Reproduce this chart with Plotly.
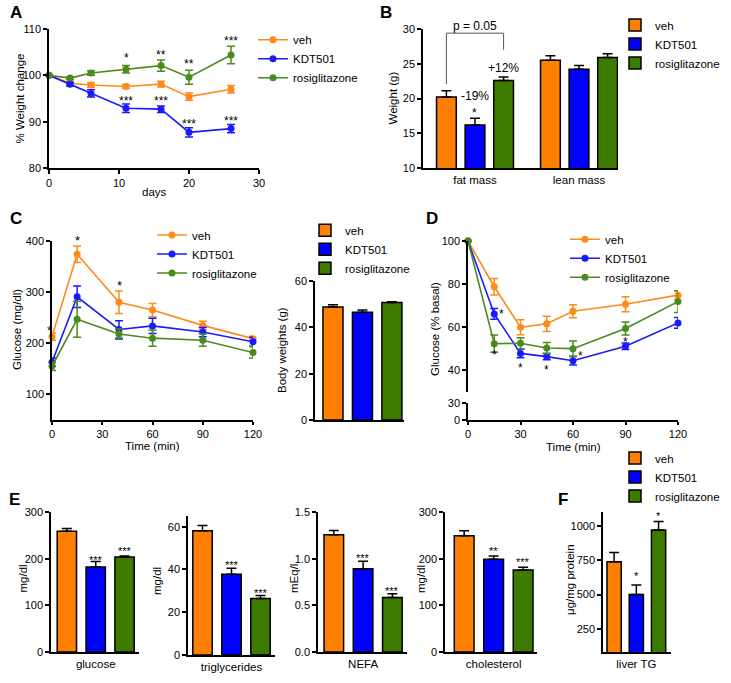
import plotly.graph_objects as go

W, H = 731, 683
FONT = "Liberation Sans, Arial, Helvetica, sans-serif"

groups = ["veh", "KDT501", "rosiglitazone"]
bar_colors = ["#FF7F00", "#0000FF", "#3D7B00"]
line_colors = ["#FF8A1A", "#1A1AFF", "#4B8A1E"]

# ---------------- Panel A: % weight change ----------------
a_days = [0, 3, 6, 11, 16, 20, 26]
a_veh = [100, 98.3, 97.9, 97.6, 98.1, 95.4, 97.0]
a_veh_err = [0, 0.3, 0.5, 0.4, 0.6, 0.8, 0.8]
a_kdt = [100, 98.1, 96.1, 92.9, 92.7, 87.7, 88.5]
a_kdt_err = [0, 0.4, 0.8, 0.9, 0.7, 1.0, 0.9]
a_rosi = [100, 99.4, 100.5, 101.3, 102.1, 99.6, 104.4]
a_rosi_err = [0, 0.3, 0.5, 0.8, 1.2, 1.5, 1.9]
a_rosi_star_days = [11, 16, 20, 26]
a_rosi_star_y = [104.4, 105.1, 103.1, 108.2]
a_rosi_star_txt = ["*", "**", "**", "***"]
a_kdt_star_days = [11, 16, 20, 26]
a_kdt_star_y = [95.3, 95.3, 90.3, 91.0]
a_kdt_star_txt = ["***", "***", "***", "***"]

# ---------------- Panel B: body composition ----------------
b_cats = ["fat mass", "lean mass"]
b_veh = [20.2, 25.5]
b_veh_err = [0.9, 0.65]
b_kdt = [16.2, 24.2]
b_kdt_err = [0.95, 0.55]
b_rosi = [22.6, 25.9]
b_rosi_err = [0.5, 0.55]

# ---------------- Panel C: GTT + body weight ----------------
c_time = [0, 15, 40, 60, 90, 120]
c_veh = [213, 374, 280, 265, 235, 209]
c_veh_err = [7, 16, 22, 13, 8, 5]
c_kdt = [163, 291, 227, 234, 222, 203]
c_kdt_err = [8, 21, 17, 15, 9, 9]
c_rosi = [155, 247, 218, 210, 206, 182]
c_rosi_err = [8, 35, 10, 16, 12, 11]
c_star_t = [-1.5, 15, 40]
c_star_y = [231, 408, 319]
bw_vals = [48.8, 46.5, 50.7]
bw_err = [0.9, 1.0, 0.3]

# ---------------- Panel D: ITT ----------------
d_time = [0, 15, 30, 45, 60, 90, 120]
d_veh = [100, 78.8, 60.0, 61.6, 67.4, 70.7, 74.9]
d_veh_err = [0, 3.8, 3.5, 3.5, 3.0, 3.5, 2.0]
d_kdt = [100, 66.2, 47.9, 46.4, 44.5, 51.2, 62.0]
d_kdt_err = [0, 2.5, 2.0, 1.5, 2.0, 1.5, 2.5]
d_rosi = [100, 52.4, 52.6, 50.4, 50.1, 59.4, 71.9]
d_rosi_err = [0, 4.0, 2.5, 2.5, 3.5, 3.0, 5.0]
d_star_t = [19, 15, 30, 45, 64, 90]
d_star_y = [67.9, 48.8, 42.6, 42.0, 48.5, 55.0]

# ---------------- Panel E / F: plasma & liver ----------------
e_glucose = [258.5, 182, 203.6]
e_glucose_err = [6, 12, 2]
e_glucose_star = ["", "***", "***"]
e_glucose_star_y = [0, 205, 224]
e_trig = [58.1, 37.8, 26.4]
e_trig_err = [2.5, 2.8, 1.4]
e_trig_star = ["", "***", "***"]
e_trig_star_y = [0, 43.7, 30.5]
e_nefa = [1.257, 0.893, 0.585]
e_nefa_err = [0.045, 0.08, 0.04]
e_nefa_star = ["", "***", "***"]
e_nefa_star_y = [0, 1.05, 0.686]
e_chol = [249.3, 198.6, 175.7]
e_chol_err = [10.7, 7.1, 5.7]
e_chol_star = ["", "**", "***"]
e_chol_star_y = [0, 223, 199.3]
f_liver = [739, 500, 969]
f_liver_err = [66, 69, 62]
f_liver_star = ["", "*", "*"]
f_liver_star_y = [0, 659, 1093]

# axis ranges
A_XR, A_YR = [0, 30], [80, 110]
B_XR, B_YR = [-0.5, 1.375], [10, 30]
C_XR, C_YR = [0, 120], [50, 400]
BW_XR, BW_YR = [-0.61, 2.41], [0, 60]
D_XR, D_YR, D_YR_LOW = [0, 120], [30, 100], [0, 30]
E1_XR, E1_YR = [-0.55, 2.5], [0, 300]
E2_XR, E2_YR = [-0.5, 2.5], [0, 65]
E3_XR, E3_YR = [-0.54, 2.5], [0, 1.5]
E4_XR, E4_YR = [-0.65, 2.47], [0, 300]
F_XR, F_YR = [-0.5, 2.56], [82, 1100]


def xdom(x0, x1):
    return [x0 / W, x1 / W]


def ydom(top, bottom):
    return [1 - bottom / H, 1 - top / H]


def axis(domain, rng, anchor, **kw):
    d = dict(domain=domain, range=rng, anchor=anchor, showline=True,
             linecolor="black", linewidth=1.5, ticks="outside", ticklen=4,
             tickwidth=1.5, tickcolor="black", showgrid=False, zeroline=False,
             tickfont=dict(size=11, color="black", family=FONT), fixedrange=True)
    d.update(kw)
    return d


def line_trace(x, y, err, i, xa, ya, legend):
    return go.Scatter(
        x=x, y=y, mode="lines+markers", name=groups[i],
        line=dict(color=line_colors[i], width=1.6),
        marker=dict(size=7, color=line_colors[i]),
        error_y=dict(type="data", array=err, color=line_colors[i], thickness=1.5, width=4),
        xaxis=xa, yaxis=ya, legend=legend, cliponaxis=False, hoverinfo="x+y+name")


def bar_trace(x, y, err, i, xa, ya, width, offset=None, legend="legend", showlegend=False):
    return go.Bar(
        x=x, y=y, name=groups[i], width=width, offset=offset,
        marker=dict(color=bar_colors[i], line=dict(color="black", width=1.5)),
        error_y=dict(type="data", array=err, arrayminus=[0] * len(err), symmetric=False,
                     color="black", thickness=1.5, width=5),
        xaxis=xa, yaxis=ya, legend=legend, showlegend=showlegend)


fig = go.Figure()
annotations = []
shapes = []


def frac(v, r):
    return (v - r[0]) / (r[1] - r[0])


def note(x, y, text, xa, ya, xr, yr, size=12, yshift=-3.5):
    # placed in axis-domain units so that marks just outside the range stay visible
    annotations.append(dict(x=frac(x, xr), y=frac(y, yr), xref=xa + " domain", yref=ya + " domain",
                            xanchor="center", yanchor="middle",
                            text=text, showarrow=False, yshift=yshift,
                            font=dict(size=size, color="black", family=FONT)))


def label(px, py, text, size=11.5, angle=0, bold=False):
    annotations.append(dict(x=px / W, y=1 - py / H, xref="paper", yref="paper",
                            text=("<b>%s</b>" % text) if bold else text, textangle=angle,
                            showarrow=False, xanchor="center", yanchor="middle",
                            font=dict(size=size, color="black", family=FONT)))


# ---- A ----
for i, (yv, ev) in enumerate([(a_veh, a_veh_err), (a_kdt, a_kdt_err), (a_rosi, a_rosi_err)]):
    fig.add_trace(line_trace(a_days, yv, ev, i, "x", "y", "legend"))
for d, yv, t in zip(a_rosi_star_days, a_rosi_star_y, a_rosi_star_txt):
    note(d, yv, t, "x", "y", A_XR, A_YR)
for d, yv, t in zip(a_kdt_star_days, a_kdt_star_y, a_kdt_star_txt):
    note(d, yv, t, "x", "y", A_XR, A_YR)

# ---- B ----
b_offsets = [-0.275, 0.0, 0.275]
b_width = 0.19
for i, (yv, ev) in enumerate([(b_veh, b_veh_err), (b_kdt, b_kdt_err), (b_rosi, b_rosi_err)]):
    fig.add_trace(bar_trace(b_cats, yv, ev, i, "x2", "y2", b_width,
                            offset=b_offsets[i] - b_width / 2, legend="legend2", showlegend=True))
xl, xr = b_offsets[0], b_offsets[2]
br_top = 29.4
for (x0, y0, x1, y1) in [(xl, b_veh[0] + b_veh_err[0] + 1.0, xl, br_top),
                         (xl, br_top, xr, br_top),
                         (xr, br_top, xr, 27.0)]:
    shapes.append(dict(type="line", xref="x2", yref="y2", x0=x0, y0=y0, x1=x1, y1=y1,
                       line=dict(color="#555555", width=1)))
note(0, 30.4, "p = 0.05", "x2", "y2", B_XR, B_YR, yshift=0)
note(b_offsets[1], 20.3, "-19%", "x2", "y2", B_XR, B_YR, yshift=0)
note(b_offsets[1], 18.4, "*", "x2", "y2", B_XR, B_YR)
note(b_offsets[2], 24.4, "+12%", "x2", "y2", B_XR, B_YR, yshift=0)

# ---- C ----
for i, (yv, ev) in enumerate([(c_veh, c_veh_err), (c_kdt, c_kdt_err), (c_rosi, c_rosi_err)]):
    fig.add_trace(line_trace(c_time, yv, ev, i, "x3", "y3", "legend3"))
for t, yv in zip(c_star_t, c_star_y):
    note(t, yv, "*", "x3", "y3", C_XR, C_YR, size=13)
for i in range(3):
    fig.add_trace(bar_trace([groups[i]], [bw_vals[i]], [bw_err[i]], i, "x4", "y4", 0.68,
                            legend="legend4", showlegend=True))

# ---- D ----
for i, (yv, ev) in enumerate([(d_veh, d_veh_err), (d_kdt, d_kdt_err), (d_rosi, d_rosi_err)]):
    fig.add_trace(line_trace(d_time, yv, ev, i, "x5", "y5", "legend5"))
fig.add_trace(go.Scatter(x=[], y=[], xaxis="x5", yaxis="y6", showlegend=False, hoverinfo="skip"))
for t, yv in zip(d_star_t, d_star_y):
    note(t, yv, "*", "x5", "y5", D_XR, D_YR)

# ---- E / F ----
e_sets = [
    ("x7", "y7", E1_XR, E1_YR, e_glucose, e_glucose_err, e_glucose_star, e_glucose_star_y),
    ("x8", "y8", E2_XR, E2_YR, e_trig, e_trig_err, e_trig_star, e_trig_star_y),
    ("x9", "y9", E3_XR, E3_YR, e_nefa, e_nefa_err, e_nefa_star, e_nefa_star_y),
    ("x10", "y10", E4_XR, E4_YR, e_chol, e_chol_err, e_chol_star, e_chol_star_y),
]
for xa, ya, xrng, yrng, vals, errs, st, sty in e_sets:
    for i in range(3):
        fig.add_trace(bar_trace([groups[i]], [vals[i]], [errs[i]], i, xa, ya, 0.67))
        if st[i]:
            note(i, sty[i], st[i], xa, ya, xrng, yrng, size=11)
for i in range(3):
    fig.add_trace(bar_trace([groups[i]], [f_liver[i]], [f_liver_err[i]], i, "x11", "y11", 0.64,
                            legend="legend6", showlegend=True))
    if f_liver_star[i]:
        note(i, f_liver_star_y[i], f_liver_star[i], "x11", "y11", F_XR, F_YR, size=11)

# ---- axis titles & panel letters ----
label(19, 98.5, "% Weight change", angle=-90)
label(154, 192, "days")
label(392, 98.5, "Weight (g)", angle=-90)
label(17, 330, "Glucose (mg/dl)", angle=-90)
label(152.5, 446, "Time (min)")
label(282, 350, "Body weights (g)", angle=-90)
label(435, 329, "Glucose (% basal)", angle=-90)
label(573, 447, "Time (min)")
label(22.5, 579, "mg/dl", angle=-90)
label(157, 581, "mg/dl", angle=-90)
label(294, 579, "mEq/l", angle=-90)
label(421, 579, "mg/dl", angle=-90)
label(570, 580, "μg/mg protein", angle=-90)
for txt, px, py in [("A", 15.5, 12.5), ("B", 385.5, 12.5), ("C", 15.5, 218),
                    ("D", 432, 218), ("E", 14.5, 499), ("F", 562.5, 499)]:
    label(px, py, txt, size=17, bold=True)


def legend_at(text_x, first_row_y):
    return dict(x=(text_x - 40) / W, y=1 - (first_row_y - 17.5) / H, xanchor="left",
                yanchor="top", bgcolor="rgba(0,0,0,0)", borderwidth=0, tracegroupgap=0,
                font=dict(size=11.5, color="black", family=FONT))


cat_common = dict(type="category", categoryorder="array", categoryarray=groups, ticks="")
cat_font = dict(size=11.5, color="black", family=FONT)

fig.update_layout(
    width=W, height=H, margin=dict(l=0, r=0, t=0, b=0, autoexpand=False),
    paper_bgcolor="white", plot_bgcolor="white",
    font=dict(family=FONT, color="black"),
    barmode="overlay", showlegend=True,
    annotations=annotations, shapes=shapes,
    legend=legend_at(293, 42.7),
    legend2=legend_at(655, 28),
    legend3=legend_at(192, 238),
    legend4=legend_at(345, 233.3),
    legend5=legend_at(605, 242.3),
    legend6=legend_at(655, 461),
    # A
    xaxis=axis(xdom(49, 259), A_XR, "y", tickvals=[0, 10, 20, 30]),
    yaxis=axis(ydom(29, 168), A_YR, "x", tickvals=[80, 90, 100, 110]),
    # B
    xaxis2=axis(xdom(423, 618), B_XR, "y2", type="category", ticks="", tickfont=cat_font),
    yaxis2=axis(ydom(29, 168), B_YR, "x2", tickvals=[10, 15, 20, 25, 30]),
    # C
    xaxis3=axis(xdom(52, 253), C_XR, "y3", tickvals=[0, 30, 60, 90, 120], ticklen=3),
    yaxis3=axis(ydom(241, 420), C_YR, "x3", tickvals=[100, 200, 300, 400]),
    xaxis4=axis(xdom(315, 404), BW_XR, "y4", showticklabels=False, **cat_common),
    yaxis4=axis(ydom(281, 420), BW_YR, "x4", tickvals=[0, 20, 40, 60]),
    # D (broken axis)
    xaxis5=axis(xdom(468, 678), D_XR, "y6", tickvals=[0, 30, 60, 90, 120], ticklen=3),
    yaxis5=axis(ydom(241, 392), D_YR, "x5", tickvals=[40, 60, 80, 100]),
    yaxis6=axis(ydom(403, 420), D_YR_LOW, "x5", tickvals=[0, 30]),
    # E
    xaxis7=axis(xdom(51, 139), E1_XR, "y7", tickvals=["KDT501"], ticktext=["glucose"],
                tickfont=cat_font, **cat_common),
    yaxis7=axis(ydom(512, 652), E1_YR, "x7", tickvals=[0, 100, 200, 300]),
    xaxis8=axis(xdom(188, 275), E2_XR, "y8", tickvals=["KDT501"], ticktext=["triglycerides"],
                tickfont=cat_font, **cat_common),
    yaxis8=axis(ydom(516, 655), E2_YR, "x8", tickvals=[0, 20, 40, 60]),
    xaxis9=axis(xdom(318, 407), E3_XR, "y9", tickvals=["KDT501"], ticktext=["NEFA"],
                tickfont=cat_font, **cat_common),
    yaxis9=axis(ydom(512, 652), E3_YR, "x9", tickvals=[0, 0.5, 1.0, 1.5], tickformat=".1f"),
    xaxis10=axis(xdom(445, 537), E4_XR, "y10", tickvals=["KDT501"], ticktext=["cholesterol"],
                 tickfont=cat_font, **cat_common),
    yaxis10=axis(ydom(512, 652), E4_YR, "x10", tickvals=[0, 100, 200, 300]),
    xaxis11=axis(xdom(603, 671), F_XR, "y11", tickvals=["KDT501"], ticktext=["liver TG"],
                 tickfont=cat_font, **cat_common),
    yaxis11=axis(ydom(512, 652), F_YR, "x11", tickvals=[250, 500, 750, 1000]),
)

fig.write_html("out.html", config={"displayModeBar": False},
               post_script="document.body.style.margin='0';document.body.style.overflow='hidden';")
